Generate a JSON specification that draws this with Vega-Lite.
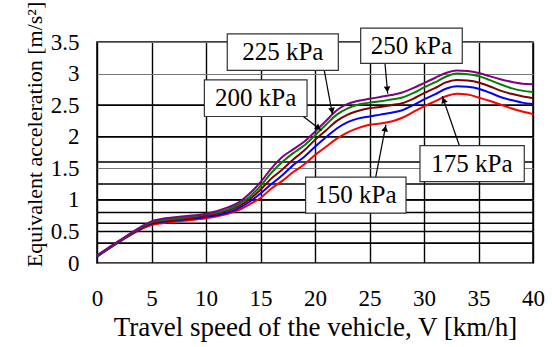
{
  "$schema": "https://vega.github.io/schema/vega-lite/v6.json",
  "width": 436,
  "height": 221,
  "autosize": {"type": "none"},
  "padding": {"left": 97, "top": 42, "right": 19, "bottom": 84},
  "background": "white",
  "config": {
    "view": {"stroke": "black", "strokeWidth": 1.5},
    "font": "Liberation Serif",
    "axisY": {
      "titleFontSize": 22, "titleFontWeight": "normal", "titleColor": "black",
      "titlePadding": 4, "titleY": 92,
      "values": [0, 0.5, 1, 1.5, 2, 2.5, 3, 3.5],
      "format": "~g",
      "labelFontSize": 23, "labelColor": "black", "labelPadding": 18,
      "labelOverlap": false, "labelBound": false, "labelFlush": false,
      "ticks": false, "domain": false,
      "grid": true, "gridColor": "#777777", "gridWidth": 1
    }
  },
  "datasets": {
    "curves": [
      {"v": 0, "150": 0.11, "175": 0.10, "200": 0.11, "225": 0.11, "250": 0.12},
      {"v": 2, "150": 0.33, "175": 0.33, "200": 0.34, "225": 0.34, "250": 0.35},
      {"v": 4, "150": 0.53, "175": 0.54, "200": 0.55, "225": 0.56, "250": 0.57},
      {"v": 5, "150": 0.60, "175": 0.62, "200": 0.63, "225": 0.65, "250": 0.66},
      {"v": 6, "150": 0.63, "175": 0.65, "200": 0.66, "225": 0.68, "250": 0.70},
      {"v": 8, "150": 0.67, "175": 0.69, "200": 0.70, "225": 0.72, "250": 0.74},
      {"v": 10, "150": 0.71, "175": 0.73, "200": 0.75, "225": 0.77, "250": 0.78},
      {"v": 12, "150": 0.78, "175": 0.80, "200": 0.83, "225": 0.85, "250": 0.88},
      {"v": 13, "150": 0.84, "175": 0.87, "200": 0.90, "225": 0.93, "250": 0.96},
      {"v": 14, "150": 0.93, "175": 0.97, "200": 1.01, "225": 1.05, "250": 1.10},
      {"v": 15, "150": 1.03, "175": 1.10, "200": 1.16, "225": 1.22, "250": 1.28},
      {"v": 16, "150": 1.18, "175": 1.25, "200": 1.34, "225": 1.43, "250": 1.50},
      {"v": 17, "150": 1.30, "175": 1.39, "200": 1.48, "225": 1.60, "250": 1.68},
      {"v": 18, "150": 1.44, "175": 1.55, "200": 1.64, "225": 1.74, "250": 1.80},
      {"v": 19, "150": 1.56, "175": 1.68, "200": 1.78, "225": 1.86, "250": 1.92},
      {"v": 20, "150": 1.71, "175": 1.84, "200": 1.95, "225": 2.02, "250": 2.08},
      {"v": 21, "150": 1.84, "175": 1.99, "200": 2.10, "225": 2.19, "250": 2.25},
      {"v": 22, "150": 1.97, "175": 2.13, "200": 2.25, "225": 2.35, "250": 2.42},
      {"v": 23, "150": 2.07, "175": 2.23, "200": 2.35, "225": 2.45, "250": 2.52},
      {"v": 24, "150": 2.14, "175": 2.29, "200": 2.41, "225": 2.51, "250": 2.57},
      {"v": 25, "150": 2.19, "175": 2.32, "200": 2.45, "225": 2.54, "250": 2.60},
      {"v": 26, "150": 2.21, "175": 2.35, "200": 2.47, "225": 2.56, "250": 2.63},
      {"v": 27, "150": 2.24, "175": 2.38, "200": 2.50, "225": 2.59, "250": 2.66},
      {"v": 28, "150": 2.30, "175": 2.42, "200": 2.53, "225": 2.62, "250": 2.70},
      {"v": 29, "150": 2.39, "175": 2.50, "200": 2.60, "225": 2.69, "250": 2.77},
      {"v": 30, "150": 2.48, "175": 2.59, "200": 2.69, "225": 2.78, "250": 2.85},
      {"v": 31, "150": 2.56, "175": 2.67, "200": 2.77, "225": 2.86, "250": 2.93},
      {"v": 32, "150": 2.64, "175": 2.76, "200": 2.86, "225": 2.95, "250": 3.01},
      {"v": 33, "150": 2.68, "175": 2.80, "200": 2.90, "225": 3.00, "250": 3.05},
      {"v": 34, "150": 2.67, "175": 2.79, "200": 2.89, "225": 2.99, "250": 3.04},
      {"v": 35, "150": 2.62, "175": 2.76, "200": 2.86, "225": 2.96, "250": 3.01},
      {"v": 36, "150": 2.57, "175": 2.70, "200": 2.80, "225": 2.90, "250": 2.96},
      {"v": 37, "150": 2.51, "175": 2.63, "200": 2.73, "225": 2.83, "250": 2.91},
      {"v": 38, "150": 2.45, "175": 2.58, "200": 2.68, "225": 2.77, "250": 2.87},
      {"v": 39, "150": 2.40, "175": 2.54, "200": 2.64, "225": 2.73, "250": 2.84},
      {"v": 40, "150": 2.36, "175": 2.52, "200": 2.61, "225": 2.71, "250": 2.83}
    ],
    "levels": [
      {"a": 0.315}, {"a": 0.5}, {"a": 0.63}, {"a": 0.8}, {"a": 1.0},
      {"a": 1.25}, {"a": 1.6}, {"a": 2.0}, {"a": 2.5}
    ],
    "labels": [
      {"label": "150 kPa", "tx": 23.75, "ty": 1.075, "bx1": 19.14, "bx2": 28.35, "by1": 0.79, "by2": 1.36, "ax1": 25.57, "ay1": 1.36, "ax2": 26.51, "ay2": 2.19, "hx": 26.44, "hy": 2.13},
      {"label": "175 kPa", "tx": 34.4, "ty": 1.575, "bx1": 29.63, "bx2": 39.2, "by1": 1.29, "by2": 1.86, "ax1": 33.24, "ay1": 1.86, "ax2": 31.68, "ay2": 2.64, "hx": 31.8, "hy": 2.58},
      {"label": "200 kPa", "tx": 14.56, "ty": 2.61, "bx1": 9.85, "bx2": 19.27, "by1": 2.32, "by2": 2.9, "ax1": 18.93, "ay1": 2.32, "ax2": 20.6, "ay2": 2.1, "hx": 20.32, "hy": 2.14},
      {"label": "225 kPa", "tx": 17.05, "ty": 3.34, "bx1": 11.95, "bx2": 22.14, "by1": 3.05, "by2": 3.63, "ax1": 20.85, "ay1": 3.05, "ax2": 21.6, "ay2": 2.35, "hx": 21.56, "hy": 2.41},
      {"label": "250 kPa", "tx": 28.85, "ty": 3.44, "bx1": 24.19, "bx2": 33.51, "by1": 3.16, "by2": 3.72, "ax1": 26.42, "ay1": 3.16, "ax2": 26.67, "ay2": 2.68, "hx": 26.63, "hy": 2.75}
    ]
  },
  "layer": [
    {
      "data": {"name": "levels"},
      "mark": {"type": "rule", "color": "black", "strokeWidth": 1.6},
      "encoding": {
        "y": {
          "field": "a", "type": "quantitative",
          "title": "Equivalent acceleration [m/s²]",
          "scale": {"domain": [0, 3.5], "nice": false}
        }
      }
    },
    {
      "data": {"name": "curves"},
      "transform": [{"fold": ["150", "175", "200", "225", "250"], "as": ["p", "a"]}],
      "mark": {"type": "line", "strokeWidth": 2, "interpolate": "monotone", "clip": false},
      "encoding": {
        "x": {
          "field": "v", "type": "quantitative",
          "scale": {"domain": [0, 40], "nice": false},
          "axis": {
            "title": "Travel speed of the vehicle, V [km/h]",
            "titleFontSize": 27, "titleFontWeight": "normal", "titleColor": "black",
            "titlePadding": 4,
            "values": [0, 5, 10, 15, 20, 25, 30, 35, 40],
            "labelFontSize": 23, "labelColor": "black", "labelPadding": 24,
            "labelOverlap": false, "labelBound": false, "labelFlush": false,
            "ticks": false, "domain": false,
            "grid": true, "gridColor": "black", "gridWidth": 1.4
          }
        },
        "y": {"field": "a", "type": "quantitative", "title": "Equivalent acceleration [m/s²]"},
        "color": {
          "field": "p", "type": "nominal",
          "scale": {"domain": ["150", "175", "200", "225", "250"], "range": ["#ff0000", "#0000ff", "#800000", "#008000", "#800080"]},
          "legend": null
        }
      }
    },
    {
      "data": {"name": "labels"},
      "mark": {"type": "rule", "color": "black", "strokeWidth": 1.2, "clip": false},
      "encoding": {
        "x": {"field": "ax1", "type": "quantitative"},
        "x2": {"field": "ax2"},
        "y": {"field": "ay1", "type": "quantitative"},
        "y2": {"field": "ay2"}
      }
    },
    {
      "data": {"name": "labels"},
      "mark": {"type": "point", "shape": "triangle-up", "filled": true, "color": "black", "size": 45, "opacity": 1, "clip": false},
      "encoding": {
        "x": {"field": "hx", "type": "quantitative"},
        "y": {"field": "hy", "type": "quantitative"},
        "angle": {
          "field": "label", "type": "nominal",
          "scale": {"type": "ordinal", "domain": ["150 kPa", "175 kPa", "200 kPa", "225 kPa", "250 kPa"], "range": [11, 341, 127, 169, 175]},
          "legend": null
        }
      }
    },
    {
      "data": {"name": "labels"},
      "mark": {"type": "rect", "fill": "white", "stroke": "#333333", "strokeWidth": 1.2, "clip": false},
      "encoding": {
        "x": {"field": "bx1", "type": "quantitative"},
        "x2": {"field": "bx2"},
        "y": {"field": "by1", "type": "quantitative"},
        "y2": {"field": "by2"}
      }
    },
    {
      "data": {"name": "labels"},
      "mark": {"type": "text", "fontSize": 25, "font": "Liberation Serif", "color": "black", "align": "center", "baseline": "middle", "clip": false},
      "encoding": {
        "x": {"field": "tx", "type": "quantitative"},
        "y": {"field": "ty", "type": "quantitative"},
        "text": {"field": "label"}
      }
    }
  ]
}
